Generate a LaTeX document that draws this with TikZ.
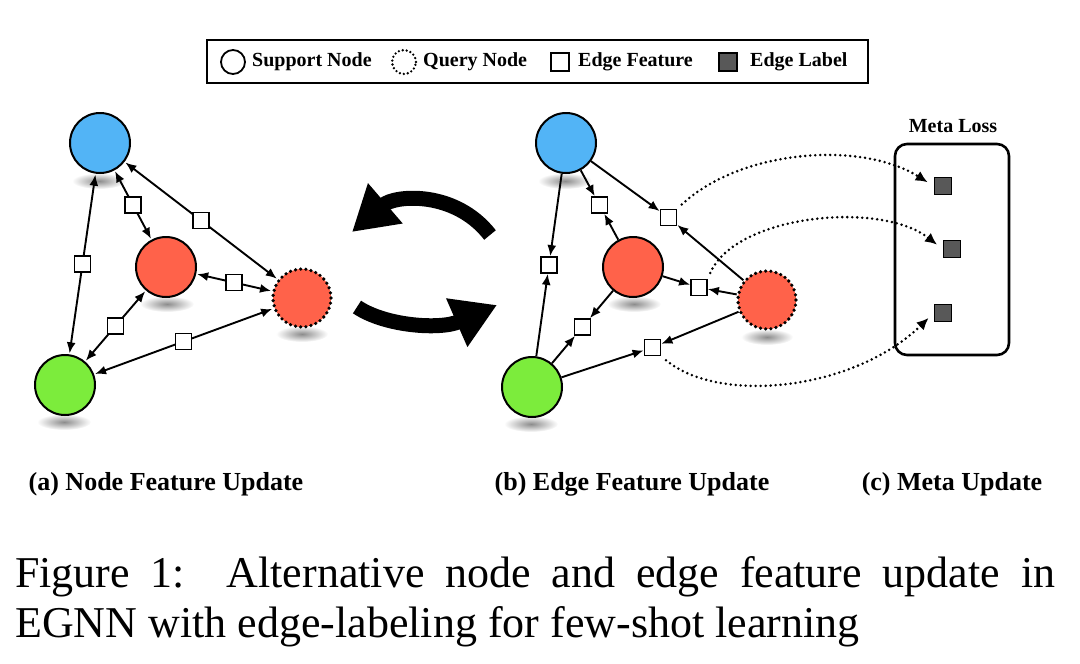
\documentclass[tikz,border=0pt]{standalone}
\usepackage{fontspec}
\setmainfont{Liberation Serif}
\usetikzlibrary{arrows.meta,calc}
\definecolor{nblue}{RGB}{82,180,246}
\definecolor{nred}{RGB}{255,98,74}
\definecolor{ngreen}{RGB}{124,236,60}
\definecolor{lgray}{RGB}{88,88,88}
\begin{document}
\begin{tikzpicture}[x=1pt,y=-1pt,
  snode/.style={circle, draw=black, line width=2pt, minimum size=60pt, inner sep=0pt},
  qnode/.style={circle, draw=black, line width=3.6pt, dash pattern=on 0pt off 5.2pt, line cap=round, fill=nred, minimum size=58pt, inner sep=0pt},
  efeat/.style={rectangle, draw=black, fill=white, line width=1.8pt, minimum size=16pt, inner sep=0pt},
  elabel/.style={rectangle, draw=black, fill=lgray, line width=1.8pt, minimum size=17pt, inner sep=0pt},
  conn/.style={line width=1.9pt, -{Latex[length=11pt,width=9pt]}},
  biconn/.style={line width=1.9pt, {Latex[length=11pt,width=9pt]}-{Latex[length=11pt,width=9pt]}, shorten <=1pt, shorten >=1pt},
  dotc/.style={line width=2.8pt, dash pattern=on 0pt off 5pt, line cap=round, -{Latex[length=12pt,width=11pt]}},
  rot/.style={line width=15pt, -{Triangle[length=44pt,width=50pt]}},
  lbl/.style={font=\fontsize{26}{30}\selectfont\bfseries},
  leg/.style={font=\fontsize{20}{24}\selectfont\bfseries, anchor=west, inner sep=0pt},
  shad/.style={inner color=black!45, outer color=white}
]
\useasboundingbox (0,0) rectangle (1080,664);

% ---------- legend ----------
\node[draw=black, line width=2.6pt, minimum width=661pt, minimum height=43pt, inner sep=0pt] (legbox) at (537.5,61.5) {};
\node[circle, draw=black, line width=1.8pt, minimum size=24pt, inner sep=0pt] (lsup) at (233,62) {};
\node[leg] (tsup) at (252,62) {Support Node};
\node[circle, draw=black, line width=2.6pt, dash pattern=on 0pt off 4pt, line cap=round, minimum size=24pt, inner sep=0pt] (lqry) at (404,62) {};
\node[leg] (tqry) at (423,62) {Query Node};
\node[rectangle, draw=black, fill=white, line width=1.8pt, minimum size=18pt, inner sep=0pt] (lfeat) at (560,62) {};
\node[leg] (tfeat) at (578,62) {Edge Feature};
\node[rectangle, draw=black, fill=lgray, line width=1.8pt, minimum size=18pt, inner sep=0pt] (llab) at (728,62) {};
\node[leg] (tlab) at (750,62) {Edge Label};

% ---------- shadows ----------
\shade[shad] (99,181) ellipse [x radius=27pt, y radius=8pt];
\shade[shad] (167,304) ellipse [x radius=27pt, y radius=8pt];
\shade[shad] (302,334) ellipse [x radius=26pt, y radius=8pt];
\shade[shad] (64,422) ellipse [x radius=27pt, y radius=8pt];
\shade[shad] (565,181) ellipse [x radius=27pt, y radius=8pt];
\shade[shad] (634,304) ellipse [x radius=27pt, y radius=8pt];
\shade[shad] (767,337) ellipse [x radius=26pt, y radius=8pt];
\shade[shad] (531,424) ellipse [x radius=27pt, y radius=8pt];

% ---------- (a) node feature update ----------
\node[snode, fill=nblue] (ab) at (100,143) {};
\node[snode, fill=nred] (am) at (166,267) {};
\node[qnode] (aq) at (302,298) {};
\node[snode, fill=ngreen] (ag) at (65,385) {};

\draw[biconn] (ab) -- (ag);
\draw[biconn] (ab) -- (am);
\draw[biconn] (ab) -- (aq);
\draw[biconn] (am) -- (aq);
\draw[biconn] (am) -- (ag);
\draw[biconn] (ag) -- (aq);

\node[efeat] (abg) at ($(ab)!0.5!(ag)$) {};
\node[efeat] (abm) at ($(ab)!0.5!(am)$) {};
\node[efeat] (abq) at ($(ab)!0.5!(aq)$) {};
\node[efeat] (amq) at ($(am)!0.5!(aq)$) {};
\node[efeat] (amg) at ($(am)!0.5!(ag)$) {};
\node[efeat] (agq) at ($(ag)!0.5!(aq)$) {};

% ---------- rotation arrows ----------
\coordinate (r1s) at (490,235);
\coordinate (r1e) at (352,232);
\coordinate (r2s) at (357,307);
\coordinate (r2e) at (497,305);
\draw[rot] (r1s) .. controls (455,190) and (395,195) .. (r1e);
\draw[rot] (r2s) .. controls (385,326) and (440,330) .. (r2e);

% ---------- (b) edge feature update ----------
\node[snode, fill=nblue] (bb) at (566,143) {};
\node[snode, fill=nred] (bm) at (633,267) {};
\node[qnode] (bq) at (767,300) {};
\node[snode, fill=ngreen] (bg) at (532,387) {};

\node[efeat] (bbg) at ($(bb)!0.5!(bg)$) {};
\node[efeat] (bbm) at ($(bb)!0.5!(bm)$) {};
\node[efeat] (bbq) at ($(bb)!0.5!(bq)+(2,-4)$) {};
\node[efeat] (bmq) at ($(bm)!0.5!(bq)+(-1,4)$) {};
\node[efeat] (bmg) at ($(bm)!0.5!(bg)$) {};
\node[efeat] (bgq) at ($(bg)!0.5!(bq)+(3,4)$) {};

\draw[conn] (bb) -- (bbg);
\draw[conn] (bg) -- (bbg);
\draw[conn] (bb) -- (bbm);
\draw[conn] (bm) -- (bbm);
\draw[conn] (bb) -- (bbq);
\draw[conn] (bq) -- (bbq);
\draw[conn] (bm) -- (bmq);
\draw[conn] (bq) -- (bmq);
\draw[conn] (bm) -- (bmg);
\draw[conn] (bg) -- (bmg);
\draw[conn] (bg) -- (bgq);
\draw[conn] (bq) -- (bgq);

% ---------- (c) meta update ----------
\node[draw=black, line width=2.6pt, rounded corners=12pt, minimum width=114pt, minimum height=211pt, inner sep=0pt] (mbox) at (952,249.5) {};
\node[font=\fontsize{20}{24}\selectfont\bfseries] (mlt) at (953,126) {Meta Loss};
\node[elabel] (l1) at (943,186) {};
\node[elabel] (l2) at (952,249) {};
\node[elabel] (l3) at (943,313) {};

\draw[dotc, shorten <=6pt, shorten >=7pt] (bbq.north east) .. controls (740,150) and (860,140) .. (l1.west);
\draw[dotc, shorten <=6pt, shorten >=7pt] (bmq.north east) .. controls (735,215) and (880,200) .. (l2.west);
\draw[dotc, shorten <=6pt, shorten >=7pt] (bgq.south east) .. controls (720,405) and (855,390) .. (l3.west);

% ---------- sub labels ----------
\node[lbl, anchor=base] (la) at (166,490) {(a) Node Feature Update};
\node[lbl, anchor=base] (lb) at (632,490) {(b) Edge Feature Update};
\node[lbl, anchor=base] (lc) at (952,490) {(c) Meta Update};

% ---------- caption ----------
\node[anchor=base west, inner sep=0pt, font=\fontsize{44}{54}\selectfont] (cap1) at (15,587) {\makebox[1040pt][s]{Figure 1:\ \ Alternative node and edge feature update in}};
\node[anchor=base west, inner sep=0pt, font=\fontsize{44}{54}\selectfont] (cap2) at (15,637) {EGNN with edge-labeling for few-shot learning};
\end{tikzpicture}
\end{document}
